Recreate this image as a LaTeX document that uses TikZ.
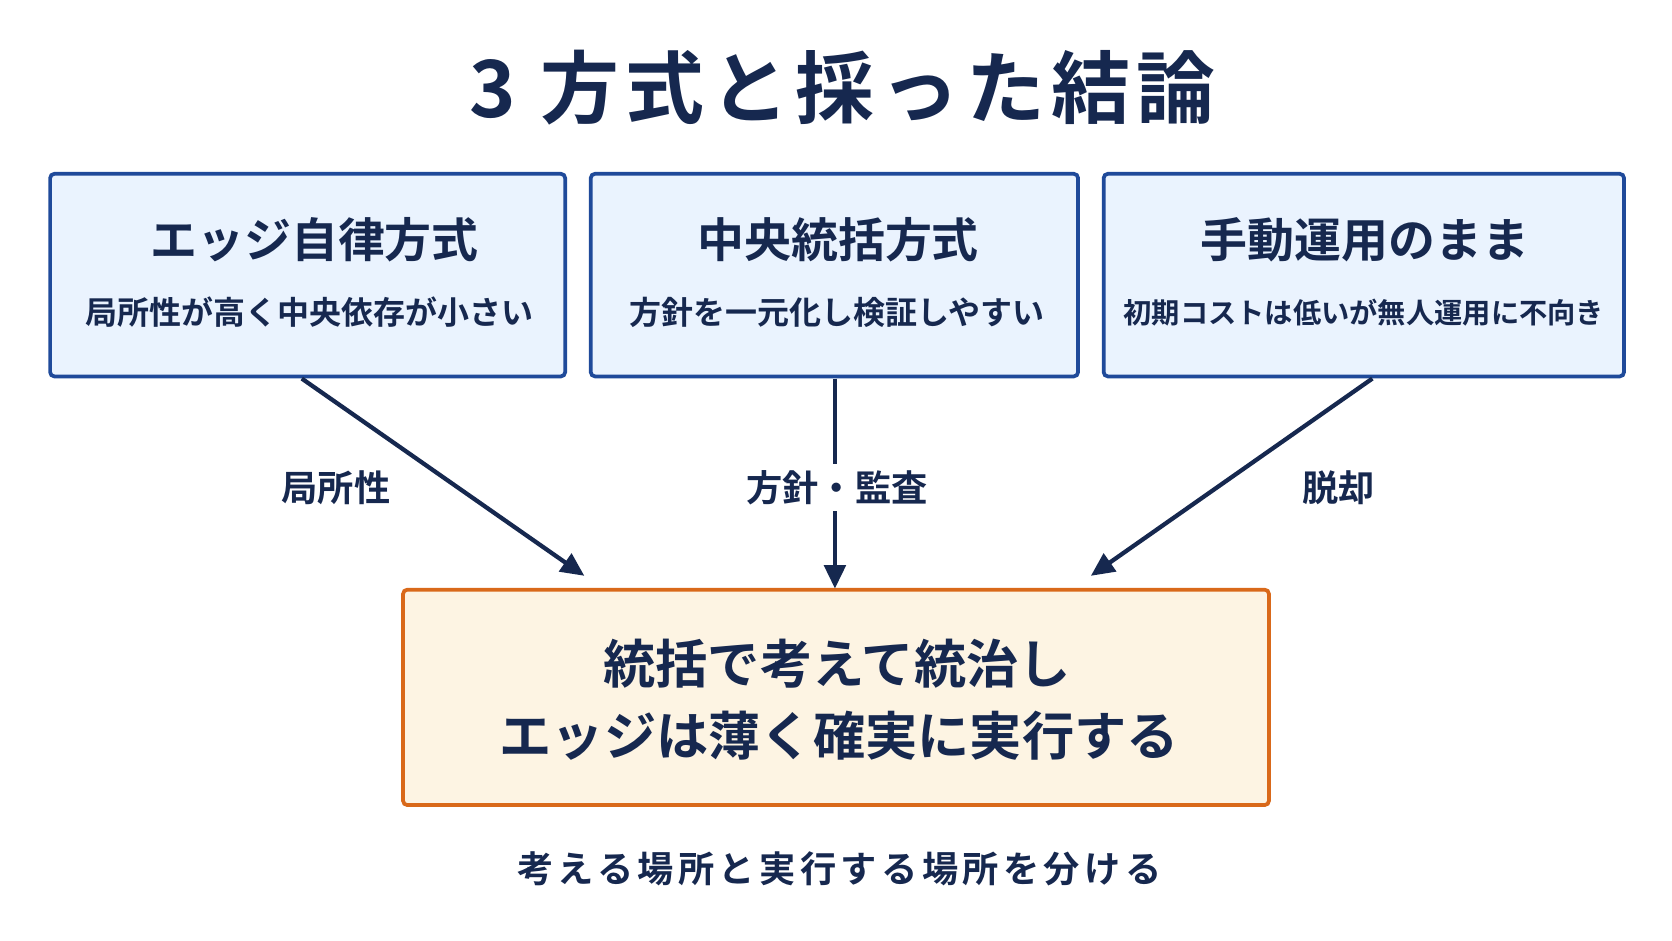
\documentclass[tikz,border=0pt]{standalone}
\usepackage{fontspec}
\setmainfont{Noto Sans CJK JP}[BoldFont={Noto Sans CJK JP Bold}]
\usetikzlibrary{arrows.meta}
\definecolor{navy}{HTML}{16284F}
\definecolor{bb}{HTML}{1F4A9A}
\definecolor{bf}{HTML}{EAF3FE}
\definecolor{ob}{HTML}{D9691A}
\definecolor{of}{HTML}{FDF4E3}
\begin{document}
\begin{tikzpicture}[x=1pt,y=-1pt,
 box/.style={draw=bb,line width=3.5pt,fill=bf,rounded corners=4pt},
 t/.style={text=navy,font=\bfseries,inner sep=1pt},
 arr/.style={draw=navy,line width=4pt,-{Triangle[length=22pt,width=20pt]}}]
\useasboundingbox[fill=white] (0,0) rectangle (1568,882);
\node[t,font=\bfseries\fontsize{74}{80}\selectfont\addfontfeature{LetterSpace=8}] (title) at (790,82) {3 方式と採った結論};
\draw[box] (47,163) rectangle (530,353);
\draw[box] (554,163) rectangle (1011,353);
\draw[box] (1035,163) rectangle (1523,353);
\coordinate (a1) at (283,355); \coordinate (a2) at (783,355); \coordinate (a3) at (1287,355);
\node[t,font=\bfseries\fontsize{44}{48}\selectfont] (h1) at (295,225) {エッジ自律方式};
\node[t,font=\bfseries\fontsize{44}{48}\selectfont] (h2) at (786,225) {中央統括方式};
\node[t,font=\bfseries\fontsize{44}{48}\selectfont] (h3) at (1280,225) {手動運用のまま};
\node[t,font=\bfseries\fontsize{30}{33}\selectfont] (s1) at (290,293) {局所性が高く中央依存が小さい};
\node[t,font=\bfseries\fontsize{30}{33}\selectfont] (s2) at (785,293) {方針を一元化し検証しやすい};
\node[t,font=\bfseries\fontsize{26.5}{30}\selectfont] (s3) at (1279,293) {初期コストは低いが無人運用に不向き};
\draw[line width=3.5pt,draw=ob,fill=of,rounded corners=4pt] (378,553) rectangle (1190,755);
\coordinate (b1) at (548,540); \coordinate (b2) at (783,552); \coordinate (b3) at (1023,540);
\draw[arr] (a1) -- (b1);
\draw[arr] (a2) -- (b2);
\draw[arr] (a3) -- (b3);
\node[t,font=\bfseries\fontsize{34}{37}\selectfont] (l1) at (315,457) {局所性};
\node[t,fill=white,inner sep=6pt,font=\bfseries\fontsize{34}{37}\selectfont] (l2) at (785,457) {方針・監査};
\node[t,font=\bfseries\fontsize{34}{37}\selectfont] (l3) at (1255,457) {脱却};
\node[t,font=\bfseries\fontsize{49}{53}\selectfont] (m1) at (785,622) {統括で考えて統治し};
\node[t,font=\bfseries\fontsize{49}{53}\selectfont] (m2) at (787,690) {エッジは薄く確実に実行する};
\node[t,font=\bfseries\fontsize{34}{37}\selectfont\addfontfeature{LetterSpace=12}] (f) at (787,815) {考える場所と実行する場所を分ける};
\end{tikzpicture}
\end{document}
